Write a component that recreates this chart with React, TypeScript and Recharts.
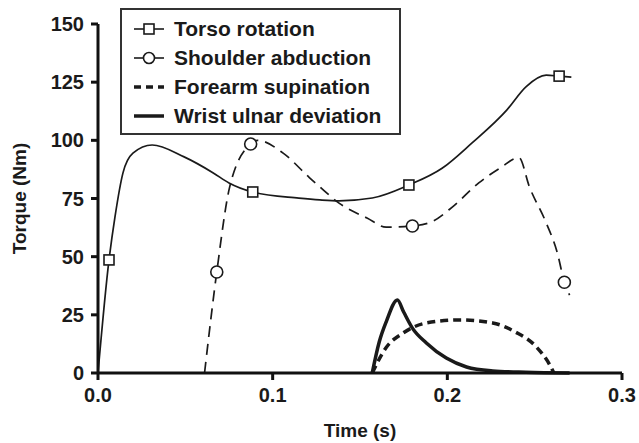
import { LineChart, Line, XAxis, YAxis, Legend } from 'recharts';

// time (s) and torque (Nm)
const torsoTime = [0, 0.0063, 0.0097, 0.0143, 0.02, 0.031, 0.049, 0.066, 0.075, 0.0886, 0.115, 0.127, 0.138, 0.157, 0.178, 0.197, 0.214, 0.234, 0.245, 0.2566, 0.264, 0.271];
const torsoTorque = [0, 48.6, 67, 86, 94.5, 98, 93, 86, 81.7, 77.8, 75.2, 74.4, 74, 75.2, 80.8, 88, 98.8, 113, 123, 128, 127.6, 127.2];
const torsoMarkerTime = [0.0063, 0.0886, 0.178, 0.264];
const torsoMarkerTorque = [48.6, 77.8, 80.8, 127.6];

const shoulderTime = [0.061, 0.068, 0.0754, 0.0874, 0.0914, 0.106, 0.121, 0.127, 0.138, 0.154, 0.165, 0.18, 0.191, 0.203, 0.218, 0.23, 0.241, 0.247, 0.2566, 0.263, 0.267, 0.27];
const shoulderTorque = [0, 43.4, 80, 98.4, 100, 94.5, 84, 80, 73, 66.6, 62.7, 63.2, 65, 71.4, 81.7, 88, 92.6, 80, 64.5, 51.6, 39, 33.5];
const shoulderMarkerTime = [0.068, 0.0874, 0.18, 0.267];
const shoulderMarkerTorque = [43.4, 98.4, 63.2, 39];

const forearmTime = [0.157, 0.165, 0.1743, 0.188, 0.207, 0.226, 0.239, 0.251, 0.259, 0.261];
const forearmTorque = [0, 11, 17, 21.5, 22.8, 21.5, 17.6, 11.2, 3, 0];

const wristTime = [0.157, 0.161, 0.165, 0.1714, 0.175, 0.18, 0.188, 0.1994, 0.211, 0.226, 0.245, 0.27];
const wristTorque = [0, 13.3, 22, 31.4, 26.2, 19.3, 12.9, 6.4, 2.6, 0.9, 0.3, 0];

const yTicks = [0, 25, 50, 75, 100, 125, 150];
const xTicks = [0, 0.1, 0.2, 0.3];

const seriesNames = ['Torso rotation', 'Shoulder abduction', 'Forearm supination', 'Wrist ulnar deviation'];

const zip = (ts: number[], vs: number[]) => ts.map((t, i) => ({ t, v: vs[i] }));

const FONT = '"Liberation Sans", Arial, sans-serif';
const INK = '#1a1a1a';

const SquareDot = (props: any) => {
  const { cx, cy } = props;
  if (cx == null || cy == null) return null;
  return <rect x={cx - 5} y={cy - 5} width={10} height={10} fill="#fff" stroke={INK} strokeWidth={1.6} />;
};

const CircleDot = (props: any) => {
  const { cx, cy } = props;
  if (cx == null || cy == null) return null;
  return <circle cx={cx} cy={cy} r={6} fill="#fff" stroke={INK} strokeWidth={1.6} />;
};

function LegendIcon({ index }: { index: number }) {
  return (
    <svg width={32} height={14} style={{ display: 'block' }}>
      {index === 0 && (
        <>
          <line x1={1} y1={7} x2={31} y2={7} stroke={INK} strokeWidth={1.6} />
          <rect x={11} y={2} width={10} height={10} fill="#fff" stroke={INK} strokeWidth={1.6} />
        </>
      )}
      {index === 1 && (
        <>
          <line x1={1} y1={7} x2={31} y2={7} stroke={INK} strokeWidth={1.6} />
          <circle cx={16} cy={7} r={5.5} fill="#fff" stroke={INK} strokeWidth={1.6} />
        </>
      )}
      {index === 2 && <line x1={1} y1={7} x2={31} y2={7} stroke={INK} strokeWidth={3.5} strokeDasharray="7 5" />}
      {index === 3 && <line x1={1} y1={7} x2={31} y2={7} stroke={INK} strokeWidth={3.5} />}
    </svg>
  );
}

const renderLegend = () => (
  <div
    style={{
      border: `2px solid #333`,
      background: '#fff',
      padding: '4px 10px 3px 11px',
      width: 256,
      fontFamily: FONT,
      fontWeight: 'bold',
      fontSize: 21,
      color: INK,
    }}
  >
    {seriesNames.map((name, i) => (
      <div key={name} style={{ display: 'flex', alignItems: 'center', height: 29 }}>
        <LegendIcon index={i} />
        <span style={{ marginLeft: 9, whiteSpace: 'nowrap' }}>{name}</span>
      </div>
    ))}
  </div>
);

export default function App() {
  return (
    <div style={{ position: 'absolute', left: 0, top: 0, background: '#fff' }}>
      <LineChart width={639} height={443} margin={{ top: 24, right: 17, bottom: 0, left: 0 }}>
        <XAxis
          type="number"
          dataKey="t"
          domain={[0, 0.3]}
          ticks={xTicks}
          tickFormatter={(v: number) => v.toFixed(1)}
          allowDataOverflow
          height={70}
          stroke="#111"
          strokeWidth={3}
          tickSize={7}
          tick={{ fill: INK, fontSize: 20, fontWeight: 'bold', fontFamily: FONT, dy: 6 }}
          label={{ value: 'Time (s)', position: 'insideBottom', offset: 6, fill: INK, fontSize: 19, fontWeight: 'bold', fontFamily: FONT }}
        />
        <YAxis
          type="number"
          dataKey="v"
          domain={[0, 150]}
          ticks={yTicks}
          width={98}
          stroke="#111"
          strokeWidth={3}
          tickSize={7}
          tick={{ fill: INK, fontSize: 20, fontWeight: 'bold', fontFamily: FONT, dx: -5 }}
          label={{ value: 'Torque (Nm)', angle: -90, position: 'insideLeft', offset: 19, fill: INK, fontSize: 19, fontWeight: 'bold', fontFamily: FONT, style: { textAnchor: 'middle' } }}
        />
        <Legend
          layout="vertical"
          align="center"
          verticalAlign="middle"
          content={renderLegend}
          wrapperStyle={{ left: 120, top: 8, width: 'auto' }}
        />
        <Line data={zip(torsoTime, torsoTorque)} dataKey="v" type="monotone" stroke={INK} strokeWidth={1.7} dot={false} isAnimationActive={false} name={seriesNames[0]} />
        <Line data={zip(shoulderTime, shoulderTorque)} dataKey="v" type="monotone" stroke={INK} strokeWidth={1.7} strokeDasharray="11 7" dot={false} isAnimationActive={false} name={seriesNames[1]} />
        <Line data={zip(forearmTime, forearmTorque)} dataKey="v" type="monotone" stroke={INK} strokeWidth={3.5} strokeDasharray="8 5" dot={false} isAnimationActive={false} name={seriesNames[2]} />
        <Line data={zip(wristTime, wristTorque)} dataKey="v" type="monotone" stroke={INK} strokeWidth={3.5} dot={false} isAnimationActive={false} name={seriesNames[3]} />
        <Line data={zip(torsoMarkerTime, torsoMarkerTorque)} dataKey="v" stroke="none" dot={<SquareDot />} activeDot={false} legendType="none" isAnimationActive={false} />
        <Line data={zip(shoulderMarkerTime, shoulderMarkerTorque)} dataKey="v" stroke="none" dot={<CircleDot />} activeDot={false} legendType="none" isAnimationActive={false} />
      </LineChart>
    </div>
  );
}
